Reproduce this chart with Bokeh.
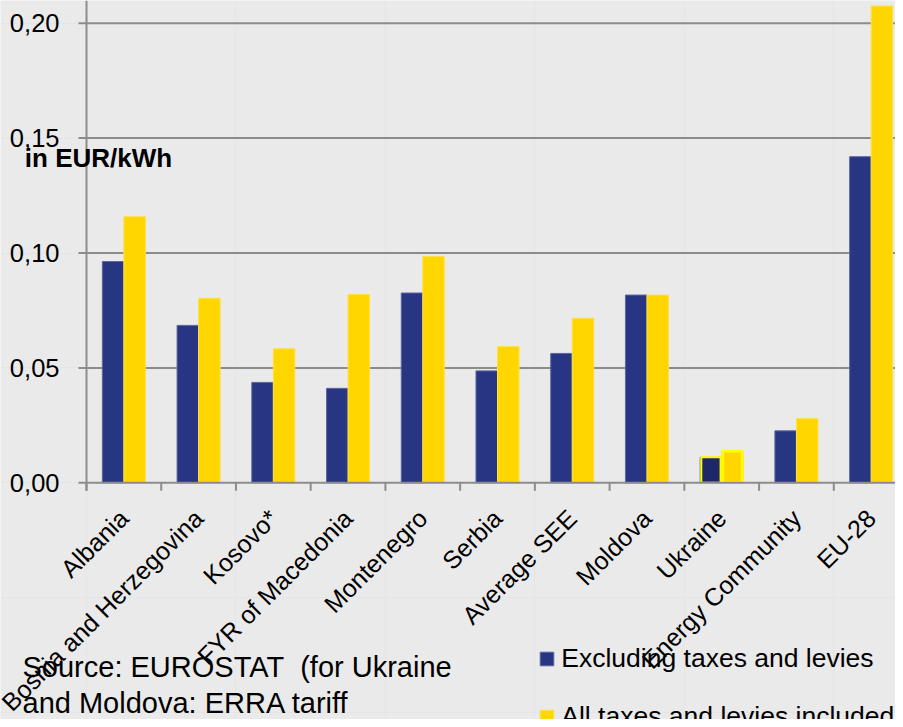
from math import pi

from bokeh.plotting import figure
from bokeh.models import (ColumnDataSource, Range1d, Legend, LegendItem, Label,
                          CDSView, IndexFilter)
from bokeh.core.properties import value
from bokeh.transform import dodge
from bokeh.embed import file_html
from bokeh.resources import INLINE

# ---- data ----
categories = ["Albania", "Bosnia and Herzegovina", "Kosovo*", "FYR of Macedonia",
              "Montenegro", "Serbia", "Average SEE", "Moldova", "Ukraine",
              "Energy Community", "EU-28"]
excluding = [0.0963, 0.0685, 0.0437, 0.0411, 0.0826, 0.0487, 0.0563, 0.0817,
             0.0111, 0.0226, 0.1419]
all_taxes = [0.1158, 0.0803, 0.0583, 0.0820, 0.0985, 0.0593, 0.0716, 0.0817,
             0.0137, 0.0280, 0.2075]
y_ticks = [0.0, 0.05, 0.10, 0.15, 0.20]
series_names = ["Excluding taxes and levies", "All taxes and levies included"]
unit_label = "in EUR/kWh"
source_lines = ["Source: EUROSTAT\u00a0 (for Ukraine", "and Moldova: ERRA tariff"]

# ---- layout / styles ----
FONT = "Liberation Sans"
NAVY = "#283582"
YELLOW = "#FFD600"
GRID = "#8c8c8c"
BG = "#EAEAEA"

W, H = 895, 719
AXIS_X = 86.0      # canvas px of the value axis
AXIS_Y = 482.3     # canvas px (from top) of the category axis
CAT_PX = 74.73     # px per category
VAL_PX = 2298.0    # px per EUR/kWh

x_start, x_end = -AXIS_X / CAT_PX, (W - AXIS_X) / CAT_PX
y_bottom, y_top = -(H - AXIS_Y) / VAL_PX, AXIS_Y / VAL_PX


def dx(px):
    return px / CAT_PX


def dy(px):
    return px / VAL_PX


n = len(categories)
pos = [i + 0.5 for i in range(n)]
src = ColumnDataSource(dict(x=pos, cat=categories, excl=excluding, incl=all_taxes))

p = figure(width=W, height=H,
           x_range=Range1d(x_start, x_end), y_range=Range1d(y_bottom, y_top),
           x_axis_location=None, y_axis_location=None,
           output_backend="svg", toolbar_location=None, min_border=0,
           background_fill_color=BG, border_fill_color=BG,
           outline_line_color=None)

# horizontal grid lines (with their outside tick part)
grid_vals = y_ticks[1:]
p.segment(x0=[dx(-8)] * len(grid_vals), y0=grid_vals,
          x1=[x_end] * len(grid_vals), y1=grid_vals,
          line_color=GRID, line_width=2)

# bars
BW = 0.288
OFF = 0.144
r1 = p.vbar(x=dodge("x", -OFF), top="excl", width=BW, source=src,
            fill_color=NAVY, line_color="#5d66a0", line_width=1)
r2 = p.vbar(x=dodge("x", OFF), top="incl", width=BW, source=src,
            fill_color=YELLOW, line_color="#FFE04A", line_width=1)

# Ukraine bars are highlighted with a bright yellow outline
uk = CDSView(filter=IndexFilter([categories.index("Ukraine")]))
p.vbar(x=dodge("x", -OFF), top="excl", width=BW - 0.03, source=src, view=uk,
       fill_color="#1f2866", line_color="#FFFF00", line_width=2)
p.vbar(x=dodge("x", OFF), top="incl", width=BW - 0.03, source=src, view=uk,
       fill_color=YELLOW, line_color="#FFFF00", line_width=2.5)

# value axis: line + ticks + labels
p.segment(x0=[0], y0=[dy(-8)], x1=[0], y1=[y_top], line_color=GRID, line_width=2)
p.segment(x0=[dx(-8)], y0=[y_ticks[0]], x1=[x_end], y1=[y_ticks[0]],
          line_color=GRID, line_width=2)
p.text(x=[dx(-27)] * len(y_ticks), y=y_ticks,
       text=[f"{t:.2f}".replace(".", ",") for t in y_ticks],
       text_align="right", text_baseline="middle",
       text_font=value(FONT), text_font_size="25.5px", text_color="#000000")

# category axis: boundary ticks + rotated labels
bounds = list(range(n + 1))
p.segment(x0=bounds, y0=[0] * len(bounds), x1=bounds, y1=[dy(-8)] * len(bounds),
          line_color=GRID, line_width=2)
p.text(x=pos, y=[dy(-31)] * n, text=categories, angle=pi / 4,
       text_align="right", text_baseline="middle",
       text_font=value(FONT), text_font_size="25px", text_color="#000000")

# unit label
p.add_layout(Label(x=24.3, y=H - 157, x_units="screen", y_units="screen",
                   text=unit_label, text_font=FONT, text_font_size="26px",
                   text_font_style="bold", text_color="#000000",
                   text_baseline="alphabetic"))

# source note
for i, line in enumerate(source_lines):
    p.add_layout(Label(x=22, y=H - 666.7 - 36 * i, x_units="screen", y_units="screen",
                       text=line, text_font=FONT, text_font_size="29px",
                       text_color="#000000", text_baseline="alphabetic"))

legend = Legend(items=[LegendItem(label=series_names[0], renderers=[r1]),
                       LegendItem(label=series_names[1], renderers=[r2])],
                location=(538.3, H - 732), orientation="vertical",
                glyph_width=17, glyph_height=17, label_standoff=6,
                label_height=30, spacing=27, padding=0, margin=0,
                label_text_font=FONT, label_text_font_size="26.5px",
                label_text_color="#000000",
                background_fill_alpha=0, border_line_color=None)
p.add_layout(legend)

open("out.html", "w").write(file_html(p, INLINE))
